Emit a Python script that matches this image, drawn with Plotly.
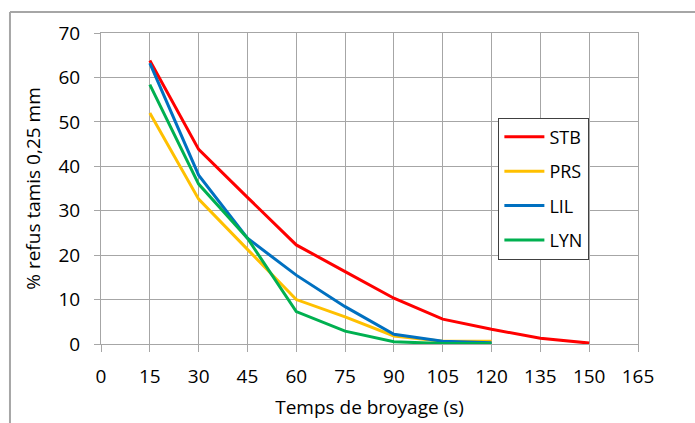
import plotly.graph_objects as go

temps = [15, 30, 45, 60, 75, 90, 105, 120, 135, 150]
stb = [63.8, 43.8, 33.0, 22.3, 16.3, 10.3, 5.6, 3.3, 1.3, 0.2]
temps_short = [15, 30, 45, 60, 75, 90, 105, 120]
prs = [52.0, 32.6, 21.3, 10.0, 6.1, 1.8, 0.6, 0.6]
lil = [63.2, 38.0, 23.8, 15.5, 8.4, 2.2, 0.6, 0.3]
lyn = [58.4, 36.0, 23.8, 7.3, 2.9, 0.5, 0.1, 0.1]

series = [
    ("STB", temps, stb, "#ff0000"),
    ("PRS", temps_short, prs, "#ffc000"),
    ("LIL", temps_short, lil, "#0070c0"),
    ("LYN", temps_short, lyn, "#00b050"),
]

FONT = "Open Sans"
GRID = "#a6a6a6"

fig = go.Figure()
for name, xs, ys, col in series:
    fig.add_trace(go.Scatter(x=xs, y=ys, name=name, mode="lines",
                             line=dict(color=col, width=3), legendgroup=name))

fig.update_layout(
    width=695, height=423,
    margin=dict(l=101, r=57, t=33, b=79, autoexpand=False),
    paper_bgcolor="white", plot_bgcolor="white",
    font=dict(family=FONT, size=19, color="#000000"),
    showlegend=True,
    legend=dict(x=0.74, y=0.728, xanchor="left", yanchor="top",
                bgcolor="white", bordercolor="#404040", borderwidth=1,
                font=dict(family=FONT, size=18, color="#000000"),
                tracegroupgap=8, itemwidth=40,
                traceorder="grouped"),
    xaxis=dict(range=[0, 165], dtick=15, tick0=0, showgrid=True, gridcolor=GRID,
               gridwidth=1, zeroline=False, showline=True, linecolor=GRID,
               mirror=True, ticks="outside", ticklen=7, tickcolor=GRID,
               automargin=False,
               title=dict(text="Temps de broyage (s)", standoff=12,
                          font=dict(family=FONT, size=19, color="#000000")),
               ticklabelstandoff=8),
    yaxis=dict(range=[0, 70], dtick=10, tick0=0, showgrid=True, gridcolor=GRID,
               gridwidth=1, zeroline=False, showline=True, linecolor=GRID,
               mirror=True, ticks="outside", ticklen=6, tickcolor=GRID,
               automargin=False,
               title=dict(text="% refus tamis 0,25 mm", standoff=12,
                          font=dict(family=FONT, size=19, color="#000000")),
               ticklabelstandoff=10),
    shapes=[
        dict(type="line", xref="paper", yref="paper", layer="above",
             x0=-0.1695, x1=1.12, y0=1.0675, y1=1.0675,
             line=dict(color="#a6a6a6", width=2)),
        dict(type="line", xref="paper", yref="paper", layer="above",
             x0=-0.1695, x1=-0.1695, y0=1.0675, y1=-0.26,
             line=dict(color="#a6a6a6", width=2)),
    ],
)

fig.write_html("out.html", config={"displayModeBar": False},
               post_script="document.body.style.margin='0';document.body.style.padding='0';")
